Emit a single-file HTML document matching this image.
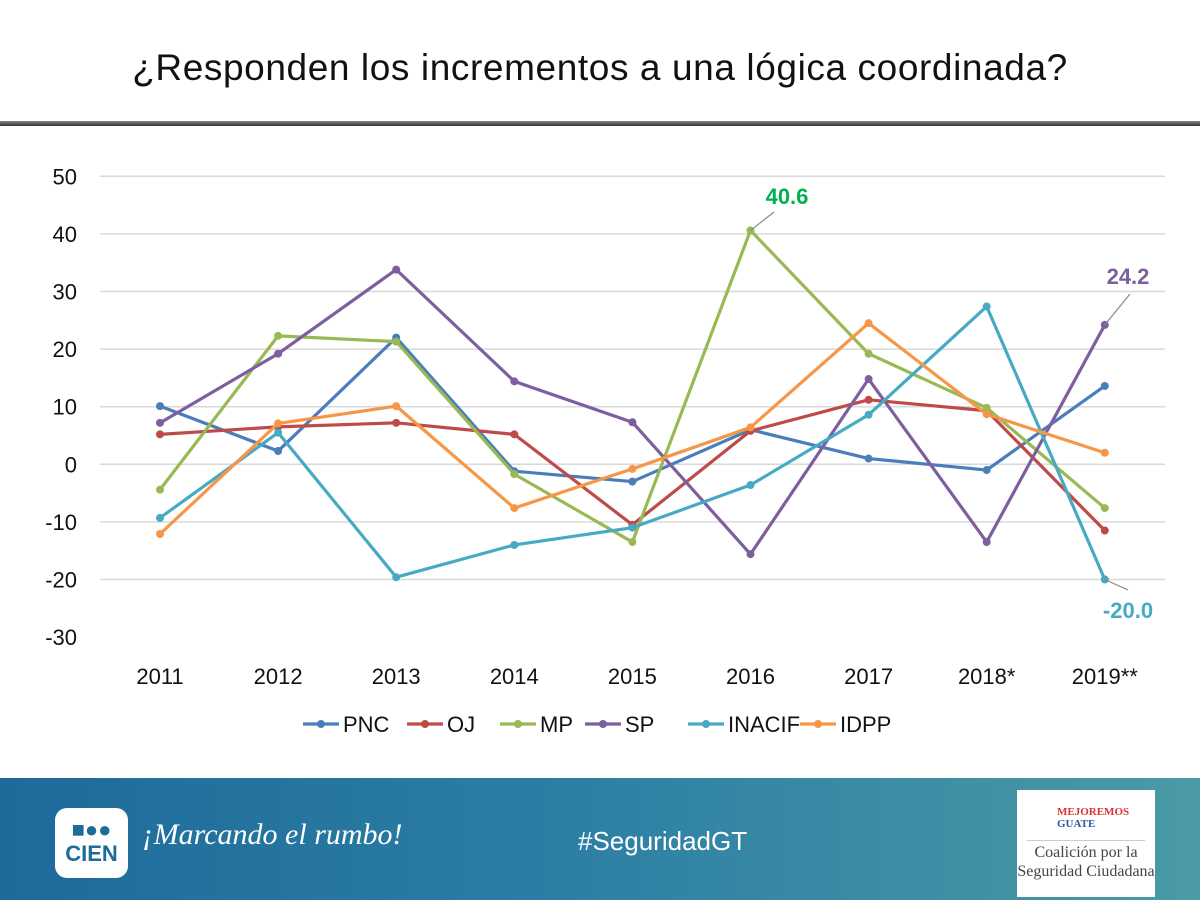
<!DOCTYPE html>
<html><head><meta charset="utf-8"><style>
body{margin:0;width:1200px;height:900px;overflow:hidden;background:#fff;font-family:"Liberation Sans",sans-serif;position:relative}
#title{position:absolute;top:47px;left:0;width:1200px;text-align:center;font-size:37px;letter-spacing:0.6px;color:#111}
#rule{position:absolute;top:121px;left:0;width:1200px;height:5px;background:linear-gradient(#888,#333)}
#footer{position:absolute;top:778px;left:0;width:1200px;height:122px;background:linear-gradient(90deg,#1e6a9b,#2b7ea3 45%,#4a9aa6)}
</style></head><body>
<div id="title">¿Responden los incrementos a una lógica coordinada?</div>
<div id="rule"></div>
<svg id="chart" width="1200" height="778" style="position:absolute;left:0;top:0"></svg>
<div id="footer">
 <div style="position:absolute;left:55px;top:30px;width:73px;height:70px;background:#fff;border-radius:12px;color:#1e6a9b;font-weight:bold;font-size:22px;text-align:center;line-height:24px;padding-top:10px;box-sizing:border-box">■●●<br>CIEN</div>
 <div style="position:absolute;left:142px;top:40px;color:#fff;font-style:italic;font-size:30px;font-family:'Liberation Serif',serif">¡Marcando el rumbo!</div>
 <div style="position:absolute;left:578px;top:48px;color:#fff;font-size:26px">#SeguridadGT</div>
 <div style="position:absolute;left:1017px;top:12px;width:138px;height:107px;background:#fff;font-family:'Liberation Serif',serif;text-align:center;color:#444">
  <div style="font-size:11px;font-weight:bold;color:#d33;margin-top:16px;margin-left:40px;text-align:left;line-height:12px">MEJOREMOS<br><span style="color:#2a5a9a">GUATE</span></div>
  <div style="border-top:1px solid #ccc;margin:10px 10px 2px"></div>
  <div style="font-size:16px;line-height:19px">Coalición por la<br>Seguridad Ciudadana</div>
 </div>
</div>
<script>
const categories=["2011","2012","2013","2014","2015","2016","2017","2018*","2019**"];
const yTicks=[50,40,30,20,10,0,-10,-20,-30];
const seriesNames=["PNC","OJ","MP","SP","INACIF","IDPP"];
const seriesColors=["#4a7ebb","#be4b48","#98b954","#7d5fa0","#46aac5","#f79646"];
const pnc=[10.1,2.3,22,-1.2,-3,6,1,-1,13.6];
const oj=[5.2,6.5,7.2,5.2,-10.5,5.8,11.2,9.3,-11.5];
const mp=[-4.4,22.3,21.3,-1.7,-13.5,40.6,19.2,9.8,-7.6];
const sp=[7.2,19.2,33.8,14.4,7.3,-15.6,14.8,-13.5,24.2];
const inacif=[-9.3,5.5,-19.6,-14,-11,-3.6,8.6,27.4,-20];
const idpp=[-12.1,7.1,10.1,-7.6,-0.8,6.4,24.5,8.7,2];
const allSeries=[pnc,oj,mp,sp,inacif,idpp];
const NS="http://www.w3.org/2000/svg";
const svg=document.getElementById('chart');
const X=i=>160+i*118.1;
const Y=v=>464.3-v*5.76;
function mk(t,a,p){const e=document.createElementNS(NS,t);for(const k in a)e.setAttribute(k,a[k]);(p||svg).appendChild(e);return e;}
yTicks.forEach(v=>{
 if(v>-30){const g=mk('line',{x1:100,x2:1165,y1:Y(v),y2:Y(v),stroke:'#d9d9d9','stroke-width':1.5});
 
 }
 const t=mk('text',{x:77,y:Y(v)+8,'text-anchor':'end','font-size':22,fill:'#111','font-family':'Liberation Sans, sans-serif'});
 t.textContent=v;
 
 
});
categories.forEach((c,i)=>{
 const t=mk('text',{x:X(i),y:684,'text-anchor':'middle','font-size':22,fill:'#111','font-family':'Liberation Sans, sans-serif'});
 t.textContent=c;
 
 
});
allSeries.forEach((s,k)=>{
 const g=mk('g',{});
 
 
 mk('polyline',{points:s.map((v,i)=>X(i)+','+Y(v)).join(' '),fill:'none',stroke:seriesColors[k],'stroke-width':3.2,'stroke-linejoin':'round'},g);
 s.forEach((v,i)=>{const c=mk('circle',{cx:X(i),cy:Y(v),r:4,fill:seriesColors[k]},g);
 
 });
});
function ann(txt,color,tx,ty,lx1,ly1,lx2,ly2){
 mk('line',{x1:lx1,y1:ly1,x2:lx2,y2:ly2,stroke:'#888','stroke-width':1.2});
 const t=mk('text',{x:tx,y:ty,'text-anchor':'middle','font-size':22,'font-weight':'bold',fill:color,'font-family':'Liberation Sans, sans-serif'});
 t.textContent=txt;
 
 
}
ann(mp[5].toFixed(1),'#00b050',787,204,X(5),Y(mp[5]),774,212);
ann(sp[8].toFixed(1),'#7d5fa0',1128,284,X(8),Y(sp[8]),1130,294);
ann(inacif[8].toFixed(1),'#46aac5',1128,618,X(8),Y(inacif[8]),1128,590);
const lx0=[303,407,500,585,688,800];
seriesNames.forEach((n,k)=>{
 const g=mk('g',{});
 
 
 const x=lx0[k];
 mk('line',{x1:x,x2:x+36,y1:724,y2:724,stroke:seriesColors[k],'stroke-width':3.2},g);
 mk('circle',{cx:x+18,cy:724,r:4,fill:seriesColors[k]},g);
 const t=mk('text',{x:x+40,y:732,'font-size':22,fill:'#111','font-family':'Liberation Sans, sans-serif'},g);
 t.textContent=n;
});
</script>
</body></html>
